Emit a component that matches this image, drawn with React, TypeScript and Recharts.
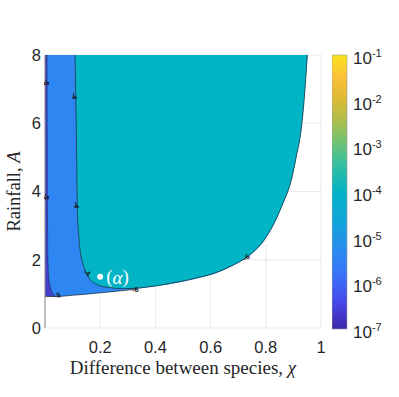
import {
  ComposedChart,
  Area,
  Line,
  XAxis,
  YAxis,
  CartesianGrid,
  ReferenceDot,
  ReferenceArea,
} from 'recharts'

// contour boundaries, chi -> rainfall A
const cyanX = [0.109, 0.111, 0.113, 0.115, 0.117, 0.121, 0.127, 0.135, 0.145, 0.164, 0.18, 0.2, 0.23, 0.26, 0.29, 0.32, 0.36, 0.4, 0.45, 0.49, 0.55, 0.612, 0.67, 0.733, 0.77, 0.794, 0.83, 0.867, 0.888, 0.91, 0.931, 0.942, 0.95]
const cyanLow = [8, 7, 6, 4.8, 3.55, 2.85, 2.29, 1.95, 1.7, 1.41, 1.31, 1.23, 1.19, 1.16, 1.155, 1.16, 1.19, 1.23, 1.3, 1.36, 1.47, 1.6, 1.8, 2.09, 2.35, 2.58, 3.07, 3.75, 4.2, 5.0, 6.0, 7.0, 8]

const blueX = [0, 0.04, 0.1, 0.15, 0.2, 0.25, 0.3, 0.335, 0.4, 0.49, 0.55, 0.612, 0.67, 0.733, 0.77, 0.794, 0.83, 0.867, 0.888, 0.91, 0.931, 0.942, 0.952]
const blueLow = [0.93, 0.92, 0.96, 0.99, 1.03, 1.07, 1.11, 1.15, 1.22, 1.34, 1.45, 1.58, 1.78, 2.07, 2.33, 2.56, 3.05, 3.73, 4.18, 4.98, 5.98, 6.98, 8]

const darkX = [0, 0.007, 0.01, 0.014, 0.019, 0.026, 0.034]
const darkHigh = [8, 8, 2.2, 1.45, 1.2, 1.05, 0.95]
const darkLow = 0.925

const A_MAX = 8
const xTicks = [0.2, 0.4, 0.6, 0.8, 1]
const yTicks = [0, 2, 4, 6, 8]
const cbExponents = [-7, -6, -5, -4, -3, -2, -1]

const contourLabels = [
  { x: 0.004, y: 7.2, text: '-5', angle: 90 },
  { x: 0.108, y: 6.8, text: '-4', angle: 90 },
  { x: 0.004, y: 3.85, text: '-5', angle: 90 },
  { x: 0.114, y: 3.6, text: '-4', angle: 90 },
  { x: 0.152, y: 1.62, text: '-4', angle: 35 },
  { x: 0.045, y: 0.96, text: '-5', angle: -10 },
  { x: 0.327, y: 1.12, text: '-6', angle: -10 },
  { x: 0.73, y: 2.07, text: '-6', angle: -35 },
]

const markChi = 0.2
const markA = 1.5

const cyanRows = cyanX.map((x, i) => ({ x, lo: cyanLow[i], hi: A_MAX }))
const blueRows = blueX.map((x, i) => ({ x, lo: blueLow[i], hi: A_MAX }))
const blueEdge = blueRows.filter((r) => r.x <= 0.335)
const darkRows = darkX.map((x, i) => ({ x, lo: darkLow, hi: darkHigh[i] }))
const cbRows = [{ x: 0 }, { x: 1 }]

const SANS = 'Liberation Sans, Arial, sans-serif'
const SERIF = 'Liberation Serif, Times New Roman, serif'

const PARULA = [
  ['0', '#3e26a8'],
  ['0.1', '#4748eb'],
  ['0.2', '#3a74f8'],
  ['0.28', '#2d88f0'],
  ['0.38', '#14a2dc'],
  ['0.5', '#02b3c5'],
  ['0.6', '#35bea0'],
  ['0.68', '#6fc274'],
  ['0.76', '#aebe4c'],
  ['0.84', '#dcba35'],
  ['0.92', '#fcc13a'],
  ['1', '#f8e21a'],
]

function CbTick(props: any) {
  const { x, y, payload } = props
  const e = Math.round(Math.log10(payload.value))
  return (
    <text x={x + 6} y={y + 9} fontSize={17} fill="#262626" fontFamily={SANS}>
      10
      <tspan dy={-7} fontSize={11}>{e}</tspan>
    </text>
  )
}

export default function App() {
  return (
    <div style={{ position: 'absolute', left: 0, top: 0, width: 399, height: 397, background: '#fff' }}>
      <div style={{ position: 'absolute', left: 0, top: 0 }}>
        <ComposedChart width={330} height={397} margin={{ top: 55, right: 9, bottom: 39, left: 0 }}>
          <XAxis
            type="number"
            dataKey="x"
            domain={[0, 1]}
            ticks={xTicks}
            allowDataOverflow
            axisLine={false}
            tickLine={false}
            tickSize={0}
            tickMargin={13}
            height={30}
            tick={{ fontSize: 16.5, fill: '#262626', fontFamily: SANS }}
            label={{
              content: ({ viewBox }: any) => (
                <text
                  x={viewBox.x + viewBox.width / 2}
                  y={viewBox.y + 46}
                  textAnchor="middle"
                  fontSize={19}
                  fill="#262626"
                  fontFamily={SERIF}
                >
                  Difference between species, <tspan fontStyle="italic">χ</tspan>
                </text>
              ),
            }}
          />
          <YAxis
            type="number"
            domain={[0, A_MAX]}
            ticks={yTicks}
            allowDataOverflow
            width={45}
            axisLine={{ stroke: '#8c8c8c' }}
            tickLine={false}
            tickSize={0}
            tickMargin={4}
            tick={{ fontSize: 16.5, fill: '#262626', fontFamily: SANS }}
            label={{
              content: ({ viewBox }: any) => (
                <text
                  transform={`translate(${viewBox.x + 20},${viewBox.y + viewBox.height / 2}) rotate(-90)`}
                  textAnchor="middle"
                  fontSize={18.5}
                  fill="#262626"
                  fontFamily={SERIF}
                >
                  Rainfall, <tspan fontStyle="italic">A</tspan>
                </text>
              ),
            }}
          />
          <Area data={blueRows} dataKey={(d: any) => [d.lo, d.hi]} type="monotoneX" fill="#2d86f1" fillOpacity={1} stroke="none" isAnimationActive={false} />
          <Area data={darkRows} dataKey={(d: any) => [d.lo, d.hi]} type="monotoneX" fill="#4340cc" fillOpacity={1} stroke="none" isAnimationActive={false} />
          <Area data={cyanRows} dataKey={(d: any) => [d.lo, d.hi]} type="monotoneX" fill="#01b4c6" fillOpacity={1} stroke="none" isAnimationActive={false} />
          <CartesianGrid stroke="#000" strokeOpacity={0.08} />
          <Line data={cyanRows} dataKey="lo" type="monotoneX" stroke="#1e2a30" strokeWidth={0.7} dot={false} isAnimationActive={false} />
          <Line data={blueEdge} dataKey="lo" type="monotoneX" stroke="#1e2a30" strokeWidth={0.7} dot={false} isAnimationActive={false} />
          <Line data={darkRows.slice(1)} dataKey="hi" type="monotoneX" stroke="#1e2a50" strokeWidth={0.6} dot={false} isAnimationActive={false} />
          {contourLabels.map((c, i) => (
            <ReferenceDot
              key={i}
              x={c.x}
              y={c.y}
              r={0}
              ifOverflow="visible"
              shape={(p: any) => (
                <text
                  transform={`translate(${p.cx},${p.cy}) rotate(${c.angle})`}
                  textAnchor="middle"
                  dominantBaseline="central"
                  fontSize={7}
                  fontWeight="bold"
                  fill="#111"
                  fontFamily={SANS}
                >
                  {c.text}
                </text>
              )}
            />
          ))}
          <ReferenceDot
            x={markChi}
            y={markA}
            r={3}
            shape={(p: any) => (
              <g>
                <circle cx={p.cx} cy={p.cy} r={3} fill="#fff" />
                <text x={p.cx + 6} y={p.cy} dominantBaseline="central" fontSize={19} fill="#fff" fontFamily={SERIF}>
                  (<tspan fontStyle="italic">α</tspan>)
                </text>
              </g>
            )}
          />
        </ComposedChart>
      </div>
      <div style={{ position: 'absolute', left: 332, top: 0 }}>
        <ComposedChart width={67} height={397} data={cbRows} margin={{ top: 55, right: 0, bottom: 68, left: 0 }}>
          <defs>
            <linearGradient id="parula" x1="0" y1="1" x2="0" y2="0">
              {PARULA.map(([o, c]) => (
                <stop key={o} offset={o} stopColor={c} />
              ))}
            </linearGradient>
          </defs>
          <XAxis type="number" dataKey="x" domain={[0, 1]} hide />
          <YAxis
            orientation="right"
            scale="log"
            domain={[1e-7, 1e-1]}
            ticks={cbExponents.map((e) => Math.pow(10, e))}
            allowDataOverflow
            width={52}
            axisLine={false}
            tickLine={false}
            tickSize={0}
            tickMargin={0}
            tick={<CbTick />}
          />
          <ReferenceArea x1={0} x2={1} y1={1e-7} y2={1e-1} fill="url(#parula)" fillOpacity={1} stroke="#a0a0a0" strokeWidth={0.6} />
        </ComposedChart>
      </div>
    </div>
  )
}
